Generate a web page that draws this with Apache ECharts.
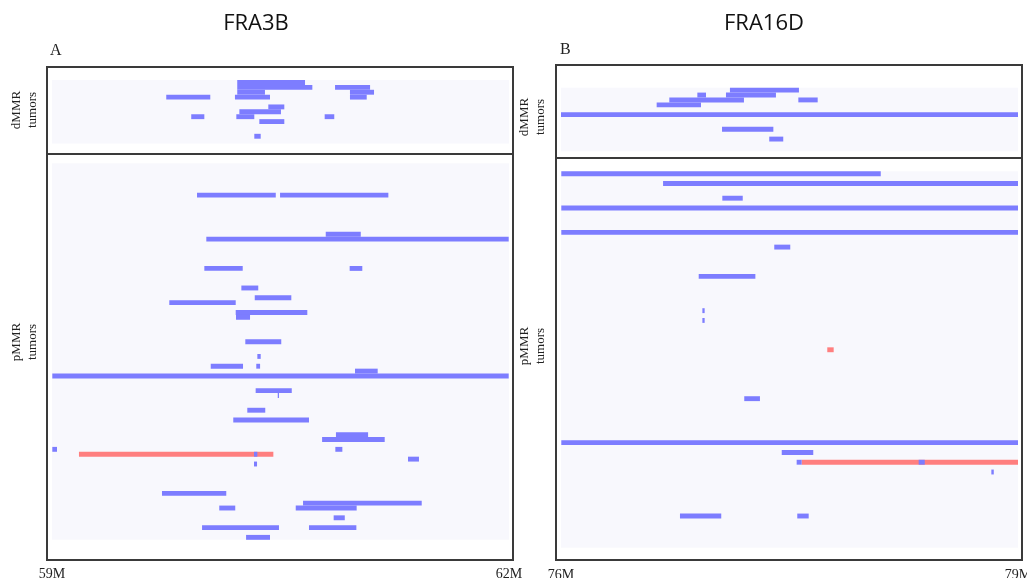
<!DOCTYPE html>
<html>
<head>
<meta charset="utf-8">
<script src="https://cdn.jsdelivr.net/npm/echarts@6/dist/echarts.min.js"></script>
<style>html,body{margin:0;padding:0;background:#fff;}#c{width:1027px;height:578px;}</style>
</head>
<body>
<div id="c"></div>
<script>
// ---- data: [row, start (Mb), end (Mb)] ----
const panelTitles = ['FRA3B', 'FRA16D'];
const panelLetters = ['A', 'B'];
const groupLabels = ['dMMR\ntumors', 'pMMR\ntumors'];
const dmmrRowCount = 13;
const pmmrRowCount = 77;
const fra3bRange = [59, 62];
const fra16dRange = [76, 79];
const fra3bTicks = [59, 62];
const fra16dTicks = [76, 79];

const fra3bDmmrLoss = [
  [0, 60.216, 60.661], [1, 60.216, 60.709], [1, 60.858, 61.088],
  [2, 60.216, 60.398], [2, 60.956, 61.114], [3, 59.750, 60.039],
  [3, 60.201, 60.431], [3, 60.956, 61.066], [5, 60.420, 60.525],
  [6, 60.230, 60.503], [7, 59.914, 60.000], [7, 60.210, 60.328],
  [7, 60.790, 60.853], [8, 60.361, 60.525], [11, 60.328, 60.370]
];
const fra3bPmmrLoss = [
  [6, 59.952, 60.469], [6, 60.497, 61.208], [14, 60.797, 61.027],
  [15, 60.013, 61.998], [21, 60.000, 60.252], [21, 60.954, 61.037],
  [25, 60.243, 60.354], [27, 60.331, 60.571], [28, 59.770, 60.206],
  [30, 60.206, 60.676], [31, 60.208, 60.300], [36, 60.269, 60.505],
  [39, 60.348, 60.370], [41, 60.042, 60.254], [41, 60.341, 60.366],
  [42, 60.989, 61.138], [43, 59.002, 61.998], [46, 60.337, 60.574],
  [47, 60.482, 60.490], [50, 60.282, 60.400], [52, 60.190, 60.687],
  [55, 60.864, 61.075], [56, 60.773, 61.184], [58, 59.002, 59.033],
  [58, 60.860, 60.906], [59, 60.326, 60.348], [60, 61.337, 61.409],
  [61, 60.326, 60.346], [67, 59.722, 60.144], [69, 60.648, 61.427],
  [70, 60.098, 60.203], [70, 60.600, 61.000], [72, 60.849, 60.922],
  [74, 59.985, 60.490], [74, 60.687, 60.998], [76, 60.274, 60.431]
];
const fra3bPmmrGain = [
  [59, 59.177, 60.453]
];
const fra16dDmmrLoss = [
  [0, 77.109, 77.562], [1, 76.895, 76.952], [1, 77.083, 77.411],
  [2, 76.711, 77.201], [2, 77.558, 77.685], [3, 76.628, 76.919],
  [5, 76.000, 79.000], [8, 77.057, 77.394], [10, 77.367, 77.459]
];
const fra16dPmmrLoss = [
  [0, 76.002, 78.099], [2, 76.670, 79.000], [5, 77.059, 77.193],
  [7, 76.002, 79.000], [12, 76.002, 79.000], [15, 77.400, 77.505],
  [21, 76.904, 77.276], [28, 76.928, 76.943], [30, 76.928, 76.943],
  [46, 77.203, 77.306], [55, 76.002, 79.000], [57, 77.449, 77.656],
  [59, 77.547, 77.580], [59, 78.348, 78.388], [61, 78.825, 78.841],
  [70, 76.781, 77.052], [70, 77.551, 77.626]
];
const fra16dPmmrGain = [
  [36, 77.748, 77.790], [59, 77.580, 79.000]
];

// ---- styling / layout ----
const LOSS = '#7d7dff';
const GAIN = '#ff7f7f';
const SHADE = '#f8f8fd';
const serif = '"Liberation Serif", "DejaVu Serif", serif';

const chart = echarts.init(document.getElementById('c'), null, {renderer: 'canvas'});

function makeRender(color) {
  return function (params, api) {
    const row = api.value(0), s = api.value(1), e = api.value(2);
    const p0 = api.coord([s, row]);
    const p1 = api.coord([e, row + 1]);
    return {
      type: 'rect',
      shape: {x: p0[0], y: p0[1], width: Math.max(p1[0] - p0[0], 1), height: p1[1] - p0[1]},
      style: {fill: color}
    };
  };
}

const grids = [
  {left: 52, top: 80, width: 457, height: 63.6},
  {left: 52, top: 163.3, width: 457, height: 376.5},
  {left: 561, top: 87.7, width: 457, height: 63.6},
  {left: 561, top: 171.3, width: 457, height: 376.5}
].map(g => Object.assign(g, {show: true, backgroundColor: SHADE, borderWidth: 0, containLabel: false, outerBoundsMode: 'none'}));

function xAx(gi, range, ticks, showLabels, margin) {
  return {
    type: 'value', gridIndex: gi, min: range[0], max: range[1],
    show: showLabels,
    axisLine: {show: false}, axisTick: {show: false}, splitLine: {show: false},
    axisLabel: {
      show: showLabels, customValues: ticks, margin: margin,
      formatter: v => v + 'M',
      fontFamily: serif, fontSize: 14, color: '#222',
      showMinLabel: true, showMaxLabel: true
    }
  };
}
function yAx(gi, rows) {
  return {type: 'value', gridIndex: gi, min: 0, max: rows, inverse: true, show: false};
}

function ser(gi, data, color) {
  return {
    type: 'custom', coordinateSystem: 'cartesian2d', xAxisIndex: gi, yAxisIndex: gi,
    renderItem: makeRender(color), data: data, encode: {x: [1, 2], y: 0},
    silent: true, animation: false
  };
}

const boxStyle = {fill: 'none', stroke: '#3a3a3a', lineWidth: 2};
const labelStyle = {font: '13px ' + serif, lineHeight: 16, fill: '#222', align: 'center', verticalAlign: 'middle'};
const graphic = [
  {type: 'rect', shape: {x: 47, y: 67, width: 466, height: 87}, style: boxStyle, z: 10},
  {type: 'rect', shape: {x: 47, y: 154, width: 466, height: 406}, style: boxStyle, z: 10},
  {type: 'rect', shape: {x: 556, y: 65, width: 466, height: 93}, style: boxStyle, z: 10},
  {type: 'rect', shape: {x: 556, y: 158, width: 466, height: 402}, style: boxStyle, z: 10},
  {type: 'text', x: 256, y: 24, style: {text: panelTitles[0], font: '22px "Open Sans"', fill: '#111', align: 'center', verticalAlign: 'middle'}},
  {type: 'text', x: 764, y: 24, style: {text: panelTitles[1], font: '22px "Open Sans"', fill: '#111', align: 'center', verticalAlign: 'middle'}},
  {type: 'text', x: 50, y: 51, style: {text: panelLetters[0], font: '16px ' + serif, fill: '#222', align: 'left', verticalAlign: 'middle'}},
  {type: 'text', x: 560, y: 50, style: {text: panelLetters[1], font: '16px ' + serif, fill: '#222', align: 'left', verticalAlign: 'middle'}},
  {type: 'text', x: 25, y: 110, rotation: Math.PI / 2, style: Object.assign({text: groupLabels[0]}, labelStyle)},
  {type: 'text', x: 25, y: 342, rotation: Math.PI / 2, style: Object.assign({text: groupLabels[1]}, labelStyle)},
  {type: 'text', x: 533, y: 117, rotation: Math.PI / 2, style: Object.assign({text: groupLabels[0]}, labelStyle)},
  {type: 'text', x: 533, y: 346, rotation: Math.PI / 2, style: Object.assign({text: groupLabels[1]}, labelStyle)}
];

chart.setOption({
  animation: false,
  backgroundColor: '#ffffff',
  grid: grids,
  xAxis: [
    xAx(0, fra3bRange, fra3bTicks, false, 0),
    xAx(1, fra3bRange, fra3bTicks, true, 28),
    xAx(2, fra16dRange, fra16dTicks, false, 0),
    xAx(3, fra16dRange, fra16dTicks, true, 20.5)
  ],
  yAxis: [yAx(0, dmmrRowCount), yAx(1, pmmrRowCount), yAx(2, dmmrRowCount), yAx(3, pmmrRowCount)],
  series: [
    ser(0, fra3bDmmrLoss, LOSS),
    ser(1, fra3bPmmrGain, GAIN),
    ser(1, fra3bPmmrLoss, LOSS),
    ser(2, fra16dDmmrLoss, LOSS),
    ser(3, fra16dPmmrGain, GAIN),
    ser(3, fra16dPmmrLoss, LOSS)
  ],
  graphic: graphic
});
</script>
</body>
</html>
